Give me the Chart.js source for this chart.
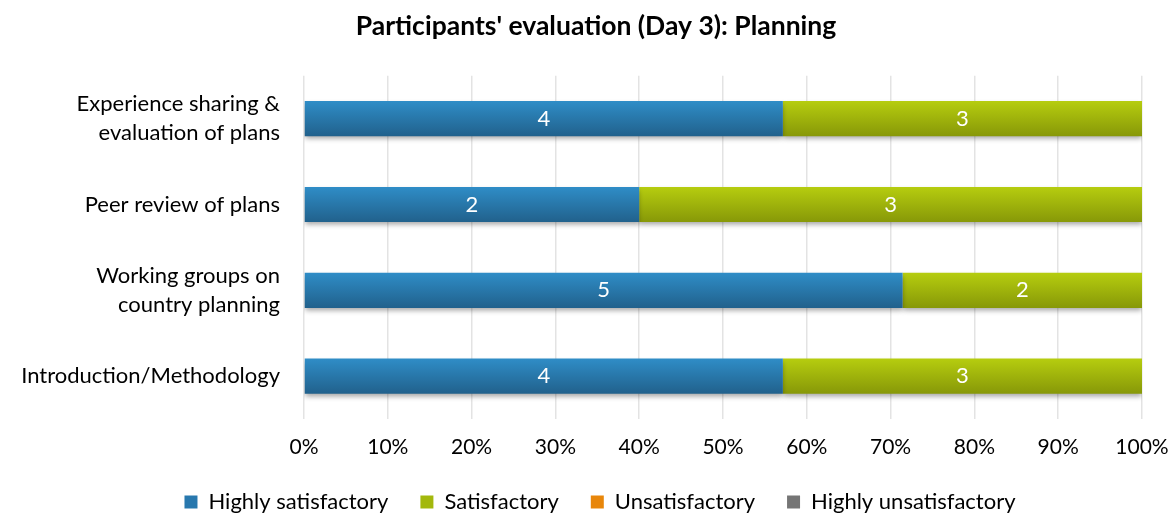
<!DOCTYPE html>
<html>
<head>
<meta charset="utf-8">
<script src="https://cdn.jsdelivr.net/npm/chart.js@4.4.1/dist/chart.umd.min.js"></script>
<style>
html,body{margin:0;padding:0;background:#fff;}
#wrap{width:1172px;height:515px;position:relative;}
</style>
</head>
<body>
<div id="wrap"><canvas id="c" width="1172" height="515"></canvas></div>
<script>
const chartTitle = "Participants' evaluation (Day 3): Planning";
const categories = [
  ["Experience sharing &", "evaluation of plans"],
  "Peer review of plans",
  ["Working groups on", "country planning"],
  "Introduction/Methodology"
];
const seriesNames = ["Highly satisfactory", "Satisfactory", "Unsatisfactory", "Highly unsatisfactory"];
const highlySatisfactory = [4, 2, 5, 4];
const satisfactory = [3, 3, 2, 3];
const unsatisfactory = [0, 0, 0, 0];
const highlyUnsatisfactory = [0, 0, 0, 0];
const xTickLabels = ["0%","10%","20%","30%","40%","50%","60%","70%","80%","90%","100%"];

const seriesCounts = [highlySatisfactory, satisfactory, unsatisfactory, highlyUnsatisfactory];
const totals = categories.map((_, i) => seriesCounts.reduce((s, arr) => s + arr[i], 0));
const pct = arr => arr.map((v, i) => totals[i] ? v / totals[i] * 100 : 0);

const colorsTop = ["#2F8DC7", "#B6CD0F", "#F89600", "#858585"];
const colorsBot = ["#21618C", "#879808", "#C26C00", "#5E5E5E"];
const colorsMid = ["#2878AE", "#A3B80C", "#E8860A", "#757575"];

const FONT = "Lato, 'Open Sans', sans-serif";

const gradientPlugin = {
  id: 'gradBars',
  afterLayout(chart) {
    if (chart.legend) {
      chart.legend.left += 14;
      chart.legend.right += 14;
    }
    if (chart.titleBlock) {
      chart.titleBlock.left += 10;
      chart.titleBlock.right += 10;
    }
  },
  beforeDatasetsDraw(chart) {
    const ctx = chart.ctx;
    chart.data.datasets.forEach((ds, di) => {
      const meta = chart.getDatasetMeta(di);
      meta.data.forEach(el => {
        const p = el.getProps(['y', 'height'], true);
        const g = ctx.createLinearGradient(0, p.y - p.height / 2, 0, p.y + p.height / 2);
        g.addColorStop(0, colorsTop[di]);
        g.addColorStop(1, colorsBot[di]);
        el.options = Object.assign({}, el.options, { backgroundColor: g });
      });
    });
    ctx.save();
    ctx.shadowColor = 'rgba(0,0,0,0.35)';
    ctx.shadowBlur = 5;
    ctx.shadowOffsetX = 0;
    ctx.shadowOffsetY = 3;
  },
  afterDatasetsDraw(chart) {
    const ctx = chart.ctx;
    ctx.restore();
    ctx.save();
    ctx.fillStyle = '#ffffff';
    ctx.font = "22px " + FONT;
    ctx.textAlign = 'center';
    ctx.textBaseline = 'middle';
    chart.data.datasets.forEach((ds, di) => {
      const meta = chart.getDatasetMeta(di);
      meta.data.forEach((el, i) => {
        const v = seriesCounts[di][i];
        if (!v) return;
        const p = el.getProps(['x', 'y', 'base'], true);
        ctx.fillText(String(v), (p.x + p.base) / 2, p.y);
      });
    });
    ctx.restore();
  }
};

new Chart(document.getElementById('c'), {
  type: 'bar',
  data: {
    labels: categories,
    datasets: seriesCounts.map((arr, i) => ({
      label: seriesNames[i],
      data: pct(arr),
      backgroundColor: colorsMid[i],
      borderWidth: 0,
      barPercentage: 0.41,
      categoryPercentage: 1.0
    }))
  },
  options: {
    indexAxis: 'y',
    responsive: false,
    animation: false,
    events: [],
    layout: { padding: { left: 0, right: 0, top: 0, bottom: -8 } },
    plugins: {
      title: {
        display: true,
        text: chartTitle,
        color: '#000',
        font: { family: FONT, size: 26.5, weight: 'bold' },
        padding: { top: 11, bottom: 33 }
      },
      legend: {
        position: 'bottom',
        labels: {
          color: '#000',
          font: { family: FONT, size: 22 },
          boxWidth: 13,
          boxHeight: 13,
          padding: 32
        }
      },
      tooltip: { enabled: false }
    },
    scales: {
      x: {
        stacked: true,
        min: 0,
        max: 100,
        afterFit(scale) {
          scale.height = 40;
          scale.paddingLeft = 0;
          scale.paddingRight = 30;
        },
        grid: { color: '#E3E3E3', lineWidth: 1.5, drawTicks: false },
        border: { display: false },
        ticks: {
          stepSize: 10,
          padding: 18,
          color: '#000',
          font: { family: FONT, size: 21, lineHeight: 1.0 },
          callback: (v, i) => xTickLabels[i]
        }
      },
      y: {
        stacked: true,
        afterFit(scale) {
          scale.width = 304;
          scale.paddingTop = 0;
          scale.paddingBottom = 0;
        },
        grid: { display: false, drawTicks: false },
        border: { display: false },
        ticks: {
          padding: 24,
          color: '#000',
          font: { family: FONT, size: 22, lineHeight: 1.33 }
        }
      }
    }
  },
  plugins: [gradientPlugin]
});
</script>
</body>
</html>
